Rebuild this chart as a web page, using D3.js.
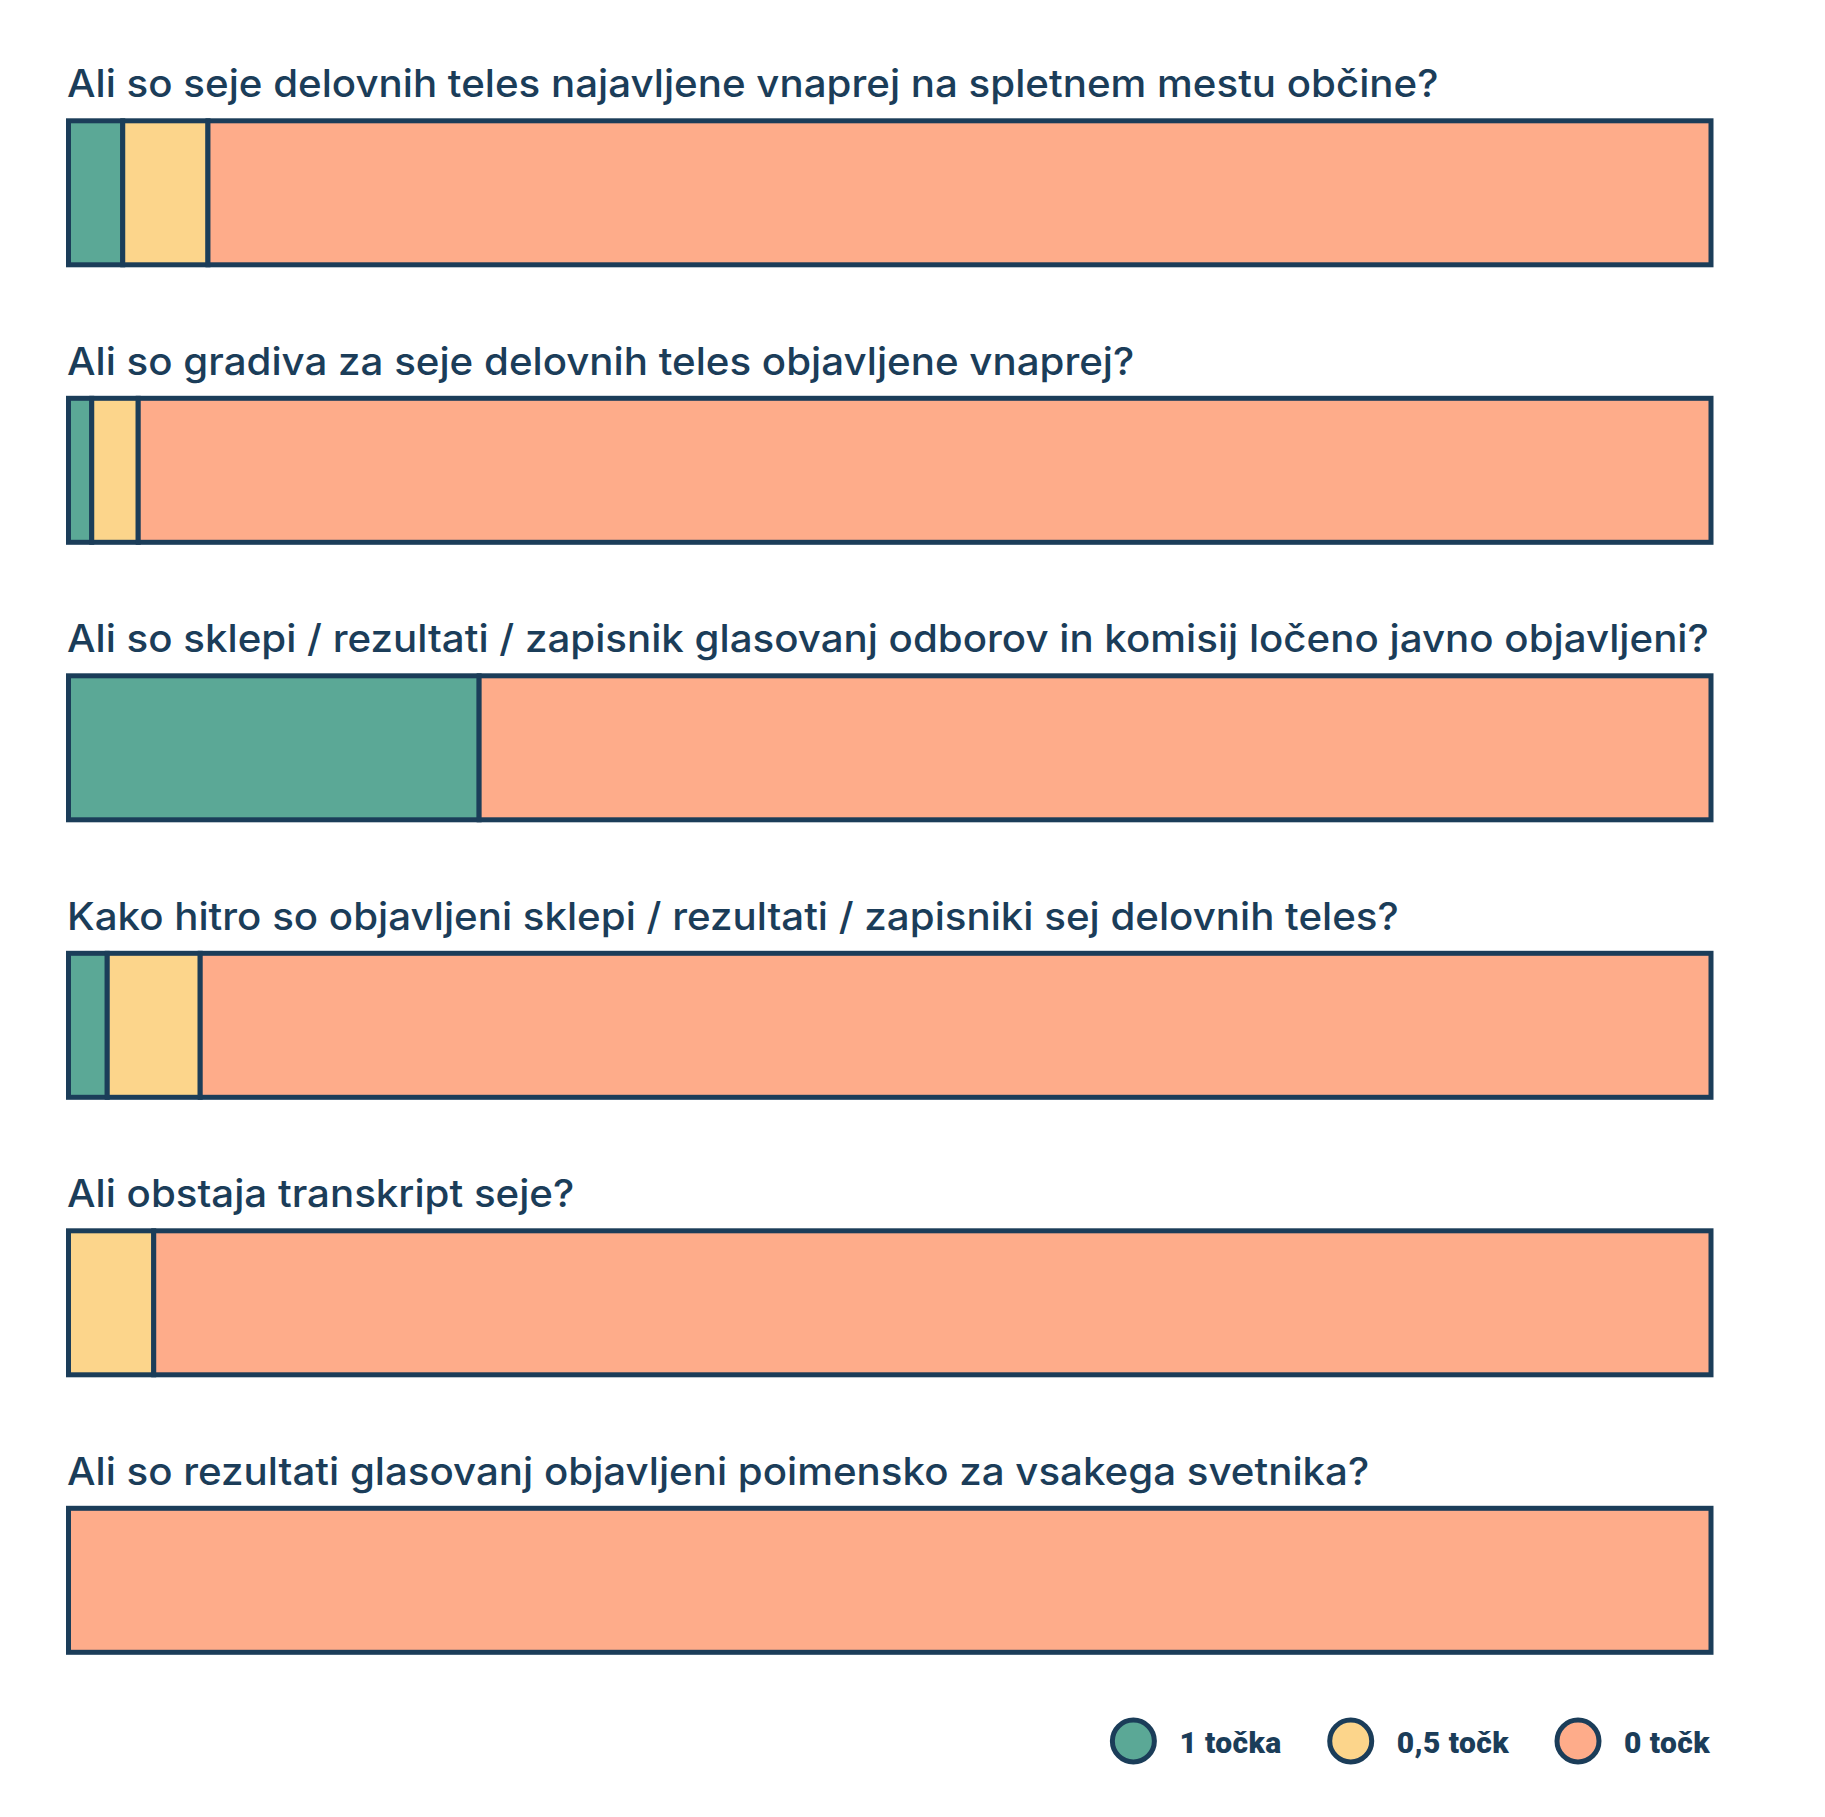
<!DOCTYPE html>
<html><head><meta charset="utf-8">
<script src="https://cdn.jsdelivr.net/npm/d3@7"></script>
<style>html,body{margin:0;padding:0;background:#fff;}</style>
</head><body>
<svg id="chart" width="1825" height="1817"></svg>
<script>
const questions = [
  "Ali so seje delovnih teles najavljene vnaprej na spletnem mestu občine?",
  "Ali so gradiva za seje delovnih teles objavljene vnaprej?",
  "Ali so sklepi / rezultati / zapisnik glasovanj odborov in komisij ločeno javno objavljeni?",
  "Kako hitro so objavljeni sklepi / rezultati / zapisniki sej delovnih teles?",
  "Ali obstaja transkript seje?",
  "Ali so rezultati glasovanj objavljeni poimensko za vsakega svetnika?"
];
const categories = ["1 točka", "0,5 točk", "0 točk"];
const onePoint  = [7, 3, 53, 5, 0, 0];
const halfPoint = [11, 6, 0, 12, 11, 0];
const zeroPoint = [194, 203, 159, 195, 201, 212];
const colors = ["#5BA896", "#FCD58B", "#FEAC8A"];
const navy = "#1B3D59";

const svg = d3.select("#chart");
const total = 212;
const x = d3.scaleLinear().domain([0, total]).range([68.5, 1711]);
const y = d3.scaleBand().domain(d3.range(questions.length))
  .range([120.8, 120.8 + 6 * 277.5 - 133.5]).paddingInner(1 - 144 / 277.5).paddingOuter(0);
const color = d3.scaleOrdinal().domain(categories).range(colors);

const rows = questions.map((q, i) => {
  const vals = [onePoint[i], halfPoint[i], zeroPoint[i]];
  let acc = 0;
  const segs = vals.map((v, k) => { const s = {cat: categories[k], x0: acc, x1: acc + v}; acc += v; return s; })
    .filter(s => s.x1 > s.x0);
  return {q, i, segs};
});

const g = svg.selectAll("g.row").data(rows).join("g").attr("class", "row");

const titles = g.append("text")
  .attr("x", 0)
  .attr("y", 0)
  .attr("fill", navy)
  .style("font-family", "Inter, sans-serif")
  .style("font-size", "38px")
  .style("font-weight", 500)
  .text(d => d.q);
// the original typeface is wider than Inter: stretch horizontally to match
const w0 = titles.filter(d => d.i === 0).node().getComputedTextLength();
const sx = 1372 / w0;
titles.attr("transform", d => `translate(67,${y(d.i) - 23.5}) scale(${sx},1)`);

g.selectAll("rect").data(d => d.segs.map(s => ({...s, i: d.i}))).join("rect")
  .attr("x", s => x(s.x0))
  .attr("width", s => x(s.x1) - x(s.x0))
  .attr("y", s => y(s.i))
  .attr("height", y.bandwidth())
  .attr("fill", s => color(s.cat))
  .attr("stroke", navy)
  .attr("stroke-width", 5);

// legend, right aligned to bar end
const legY = 1741;
const leg = svg.append("g");
const items = leg.selectAll("g").data(categories).join("g");
items.append("circle").attr("r", 21).attr("cy", legY)
  .attr("fill", d => color(d)).attr("stroke", navy).attr("stroke-width", 5);
items.append("text").attr("y", legY + 12)
  .attr("fill", navy)
  .style("font-family", "Roboto, sans-serif")
  .style("font-size", "30px")
  .style("font-weight", 900)
  .style("letter-spacing", "0.4px")
  .text(d => d);
const widths = [];
items.each(function() { widths.push(d3.select(this).select("text").node().getComputedTextLength()); });
let cursor = 1710;
const pos = [];
for (let k = categories.length - 1; k >= 0; k--) {
  const tx = cursor - widths[k];
  pos[k] = tx;
  cursor = tx - 46 - 69;
}
items.each(function(d, k) {
  d3.select(this).select("text").attr("x", pos[k]);
  d3.select(this).select("circle").attr("cx", pos[k] - 46);
});
</script>
</body></html>
